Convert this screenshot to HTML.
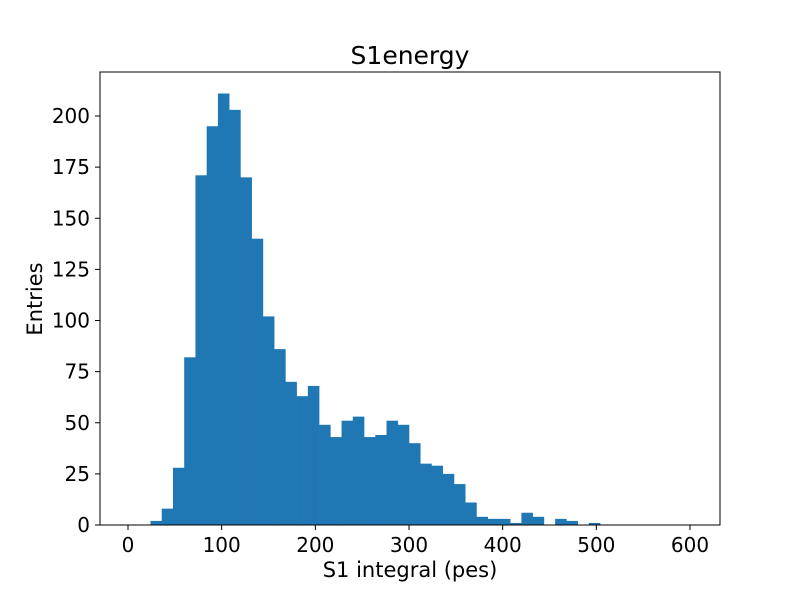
<!DOCTYPE html>
<html><head><meta charset="utf-8"><style>
body{margin:0;background:#fff}
svg text{font-family:"DejaVu Sans","Liberation Sans",sans-serif;fill:#000}
</style></head><body>
<svg id="c" width="800" height="600" xmlns="http://www.w3.org/2000/svg">
<text x="410" y="64" font-size="25" text-anchor="middle">S1energy</text>
<text x="410" y="577" font-size="21" text-anchor="middle">S1 integral (pes)</text>
<text transform="translate(42,299) rotate(-90)" font-size="21" text-anchor="middle">Entries</text>
<g id="bars"></g>
<g id="ticks"></g>
<rect x="100" y="72" width="620" height="453" fill="none" stroke="#000" stroke-width="1"/>
</svg>
<script>
const binStart = 0;
const binWidth = 12;
const counts = [0,0,2,8,28,82,171,195,211,203,170,140,102,86,70,63,68,49,43,51,53,43,44,51,49,40,30,29,25,20,11,4,3,3,1,6,4,0,3,2,0,1,0,0,0,0,0,0,0,0];
const xTicks = [0,100,200,300,400,500,600];
const yTicks = [0,25,50,75,100,125,150,175,200];
const NS='http://www.w3.org/2000/svg';
function X(v){return 128+(v)*562/600;}
function Y(v){return 525-v*409/200;}
const bars=document.getElementById('bars');
counts.forEach((c,i)=>{
  if(c<=0)return;
  const r=document.createElementNS(NS,'rect');
  const x0=X(binStart+i*binWidth),x1=X(binStart+(i+1)*binWidth);
  r.setAttribute('x',x0);r.setAttribute('width',x1-x0+0.3);
  r.setAttribute('y',Y(c));r.setAttribute('height',525-Y(c));
  r.setAttribute('fill','#1f77b4');
  
  
  bars.appendChild(r);
});
const t=document.getElementById('ticks');
xTicks.forEach(v=>{
  const l=document.createElementNS(NS,'line');
  l.setAttribute('x1',X(v));l.setAttribute('x2',X(v));l.setAttribute('y1',525);l.setAttribute('y2',530);l.setAttribute('stroke','#000');
  
  
  t.appendChild(l);
  const tx=document.createElementNS(NS,'text');
  tx.setAttribute('x',X(v));tx.setAttribute('y',552);tx.setAttribute('font-size','20');tx.setAttribute('text-anchor','middle');
  tx.textContent=v;
  
  
  t.appendChild(tx);
});
yTicks.forEach(v=>{
  const l=document.createElementNS(NS,'line');
  l.setAttribute('x1',95);l.setAttribute('x2',100);l.setAttribute('y1',Y(v));l.setAttribute('y2',Y(v));l.setAttribute('stroke','#000');
  
  
  t.appendChild(l);
  const tx=document.createElementNS(NS,'text');
  tx.setAttribute('x',90);tx.setAttribute('y',Y(v)+7);tx.setAttribute('font-size','20');tx.setAttribute('text-anchor','end');
  tx.textContent=v;
  
  
  t.appendChild(tx);
});
</script>
</body></html>
